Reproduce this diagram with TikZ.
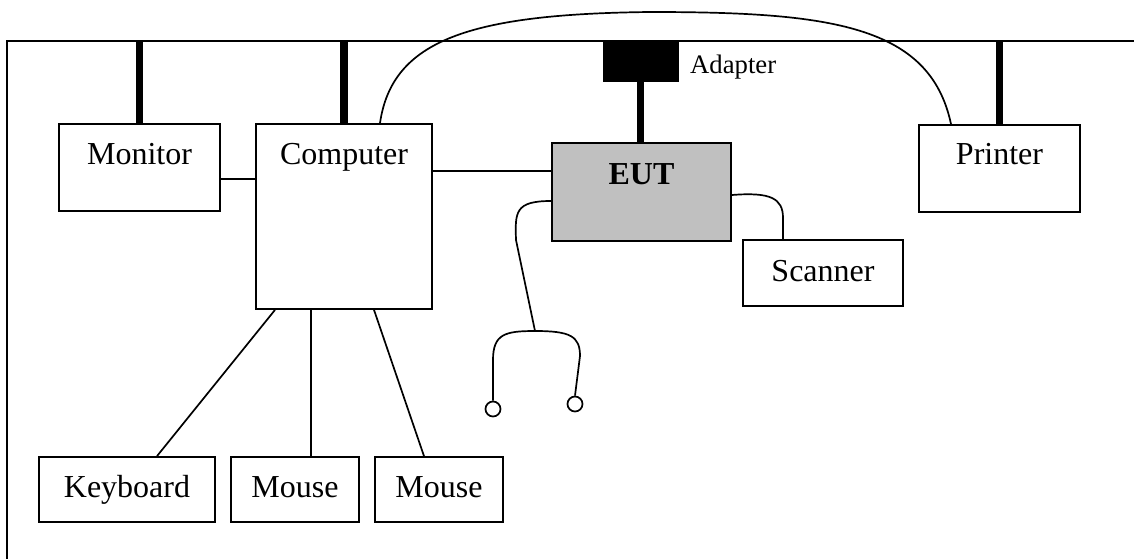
\documentclass[tikz,border=0pt]{standalone}
\usepackage{fontspec}
\setmainfont{Liberation Serif}
\begin{document}
\begin{tikzpicture}[x=1pt,y=-1pt,
  box/.style={draw=black,line width=1.8pt,rectangle,inner sep=0pt},
  txt/.style={anchor=base,inner sep=0pt,font=\fontsize{32}{38}\selectfont},
  wire/.style={line width=1.7pt},
  power/.style={line width=7.5pt},
  frameline/.style={line width=1.4pt},
  ear/.style={draw=black,line width=1.7pt,circle,minimum size=15pt,inner sep=0pt,fill=white}]
\useasboundingbox (0,0) rectangle (1134,559);
% frame
\coordinate (top) at (0,41);
\draw[frameline] (1134,41) -- (7,41) -- (7,559);
% boxes
\node[box,minimum width=161pt,minimum height=87pt] (mon) at (139.5,167.5) {};
\node[box,minimum width=176pt,minimum height=185pt] (comp) at (344,216.5) {};
\node[box,fill={rgb,255:red,192;green,192;blue,192},minimum width=179pt,minimum height=98pt] (eut) at (641.5,192) {};
\node[box,minimum width=161pt,minimum height=87pt] (prn) at (999.5,168.5) {};
\node[box,minimum width=160pt,minimum height=66pt] (scan) at (823,273) {};
\node[box,minimum width=176pt,minimum height=65pt] (kbd) at (127,489.5) {};
\node[box,minimum width=128pt,minimum height=65pt] (ms1) at (295,489.5) {};
\node[box,minimum width=128pt,minimum height=65pt] (ms2) at (439,489.5) {};
\node[draw=black,fill=black,inner sep=0pt,minimum width=75pt,minimum height=40pt] (adp) at (640.5,61) {};
% labels
\node[txt] (tmon) at ([yshift=-41pt]mon.north) {Monitor};
\node[txt] (tcomp) at ([yshift=-41pt]comp.north) {Computer};
\node[txt,font=\fontsize{32}{38}\selectfont\bfseries] (teut) at ([yshift=-42pt]eut.north) {EUT};
\node[txt] (tprn) at ([yshift=-40pt]prn.north) {Printer};
\node[txt] (tscan) at ([yshift=-42pt]scan.north) {Scanner};
\node[txt] (tkbd) at ([yshift=-41pt]kbd.north) {Keyboard};
\node[txt] (tms1) at ([yshift=-41pt]ms1.north) {Mouse};
\node[txt] (tms2) at ([yshift=-41pt]ms2.north) {Mouse};
\node[anchor=base west,inner sep=0pt,font=\fontsize{26.7}{32}\selectfont] (tadp) at (690,74) {Adapter};
% power lines
\draw[power] (mon.north) -- (mon.north |- top);
\draw[power] (comp.north) -- (comp.north |- top);
\draw[power] (prn.north) -- (prn.north |- top);
\draw[power] (adp.south) -- (adp.south |- eut.north);
% signal lines
\draw[wire] ([yshift=-11.5pt]mon.east) -- ([yshift=-11.5pt]mon.east -| comp.west);
\draw[wire] ([yshift=21pt]eut.west) -- ([yshift=21pt]eut.west -| comp.east);
\draw[wire] ([xshift=-69pt]comp.south) -- ([xshift=30pt]kbd.north);
\draw[wire] ([xshift=16pt]ms1.north) -- ([xshift=16pt]ms1.north |- comp.south);
\draw[wire] ([xshift=30pt]comp.south) -- ([xshift=-15pt]ms2.north);
% printer cable
\draw[wire] ([xshift=36pt]comp.north) .. controls (392,40) and (470,14) .. (650,12)
  .. controls (830,12) and (930,25) .. ([xshift=-48.5pt]prn.north);
% scanner cable
\draw[wire] ([yshift=-3pt]eut.east) .. controls (770,192) and (783,198) .. (783,218)
  -- ([xshift=-40pt]scan.north);
% headset
\node[ear] (earL) at (493,409) {};
\node[ear] (earR) at (575,404) {};
\coordinate (jn) at (535,331);
\draw[wire] ([yshift=-9pt]eut.west) .. controls (515,201) and (515,212) .. (516,240) -- (jn);
\draw[wire] (earL.north) -- (493,360) .. controls (493,334) and (505,331) .. (jn)
  .. controls (570,331) and (580,336) .. (580,356) -- (earR.north);
\end{tikzpicture}
\end{document}
